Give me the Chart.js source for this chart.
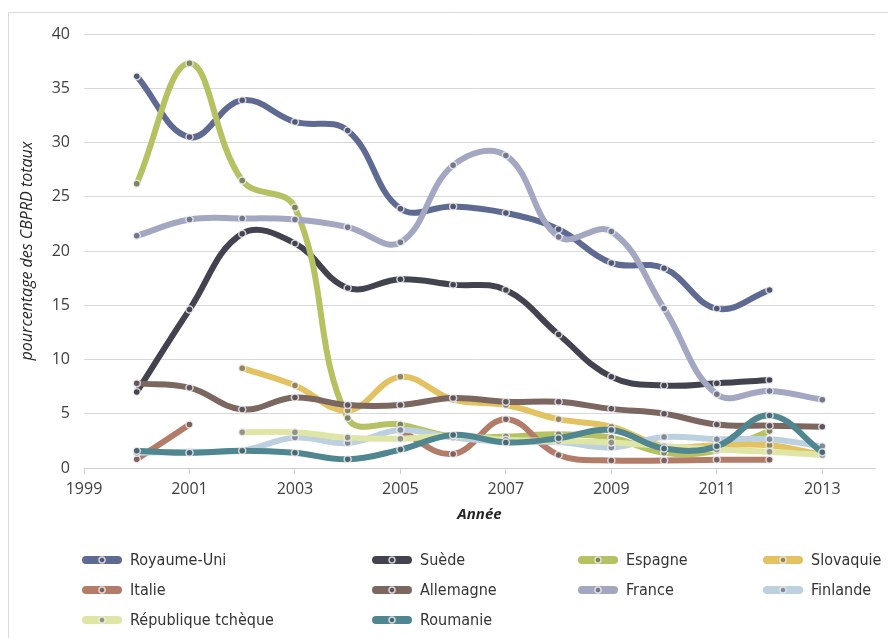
<!DOCTYPE html>
<html lang="fr">
<head>
<meta charset="utf-8">
<title>Part des CBPRD totaux par pays</title>
<script src="https://cdn.jsdelivr.net/npm/chart.js@4"></script>
<style>
  html, body { margin: 0; padding: 0; background: #fff; }
  #wrap { position: relative; width: 888px; height: 638px; }
</style>
</head>
<body>
<div id="wrap"><canvas id="c" width="888" height="638"></canvas></div>
<script>
// Years of observation and axis tick labels
const years = [2000, 2001, 2002, 2003, 2004, 2005, 2006, 2007, 2008, 2009, 2010, 2011, 2012, 2013];
const xTicks = [1999, 2001, 2003, 2005, 2007, 2009, 2011, 2013];
const yTicks = [0, 5, 10, 15, 20, 25, 30, 35, 40];

// Country names (legend order)
const countries = ['Royaume-Uni', 'Suède', 'Espagne', 'Slovaquie', 'Italie',
                   'Allemagne', 'France', 'Finlande', 'République tchèque', 'Roumanie'];

// Share of total CBPRD (%) per year, null = no data
const royaumeUni = [36.1, 30.5, 33.9, 31.9, 31.1, 23.9, 24.1, 23.5, 22.0, 18.9, 18.4, 14.7, 16.4, null];
const suede      = [7.0, 14.6, 21.6, 20.7, 16.6, 17.4, 16.9, 16.4, 12.3, 8.4, 7.6, 7.8, 8.1, null];
const espagne    = [26.2, 37.3, 26.5, 24.0, 4.6, 4.0, 2.9, 2.9, 3.1, 2.8, 1.4, 1.6, 3.4, null];
const slovaquie  = [null, null, 9.2, 7.6, 5.3, 8.4, 6.3, 5.8, 4.5, 3.8, 2.0, 2.1, 2.1, 1.2];
const italie     = [0.8, 4.0, null, null, null, 3.4, 1.3, 4.5, 1.2, 0.7, 0.7, 0.75, 0.75, null];
const allemagne  = [7.8, 7.4, 5.4, 6.5, 5.8, 5.8, 6.45, 6.1, 6.1, 5.45, 5.0, 4.0, 3.9, 3.8];
const france     = [21.4, 22.9, 23.0, 22.9, 22.2, 20.8, 27.9, 28.8, 21.3, 21.8, 14.7, 6.8, 7.1, 6.3];
const finlande   = [1.4, 1.5, 1.6, 2.8, 2.3, 3.5, 2.8, 2.4, 2.4, 1.9, 2.85, 2.65, 2.65, 2.0];
const tcheque    = [null, null, 3.3, 3.3, 2.8, 2.7, 3.0, 2.6, 2.5, 2.35, 2.0, 1.7, 1.5, 1.2];
const roumanie   = [1.6, 1.4, 1.6, 1.4, 0.8, 1.7, 3.05, 2.35, 2.75, 3.5, 1.8, 2.0, 4.85, 1.45];

const seriesValues = [royaumeUni, suede, espagne, slovaquie, italie,
                      allemagne, france, finlande, tcheque, roumanie];

const lineColors = ['#5f6a93', '#43434f', '#b6c162', '#e3c262', '#b27c68',
                    '#7b6660', '#a3a7c1', '#bdd0df', '#dfe5a4', '#4f8690'];

const MARK_FILL = 'rgba(70,70,82,0.5)';
const MARK_RING = 'rgba(240,240,246,0.8)';

const datasets = countries.map((name, i) => ({
  label: name,
  data: years.map((yr, k) => ({ x: yr, y: seriesValues[i][k] })),
  borderColor: lineColors[i],
  backgroundColor: lineColors[i],
  borderWidth: 6,
  borderCapStyle: 'round',
  borderJoinStyle: 'round',
  tension: 0.4,
  spanGaps: false,
  fill: false,
  pointRadius: 3.5,
  pointHoverRadius: 3.5,
  pointBackgroundColor: MARK_FILL,
  pointBorderColor: MARK_RING,
  pointBorderWidth: 1.5,
  order: countries.length - 1 - i   // later series are drawn on top
}));

// Light frame around the figure
const framePlugin = {
  id: 'frame',
  beforeDraw(chart) {
    const ctx = chart.ctx;
    ctx.save();
    ctx.fillStyle = '#ffffff';
    ctx.fillRect(0, 0, chart.width, chart.height);
    ctx.strokeStyle = '#dadada';
    ctx.lineWidth = 1;
    ctx.beginPath();
    ctx.moveTo(8.5, chart.height);
    ctx.lineTo(8.5, 12.5);
    ctx.lineTo(chart.width, 12.5);
    ctx.stroke();
    ctx.restore();
  }
};

// Four-column legend below the axis title
const gridLegend = {
  id: 'gridLegend',
  afterDraw(chart) {
    const ctx = chart.ctx;
    const colX = [82, 372, 578, 763];
    const rowY = 560, rowGap = 30;
    ctx.save();
    chart.data.datasets.forEach((ds, i) => {
      const x0 = colX[i % 4];
      const y = rowY + Math.floor(i / 4) * rowGap;
      ctx.strokeStyle = ds.borderColor;
      ctx.lineWidth = 8;
      ctx.lineCap = 'round';
      ctx.beginPath();
      ctx.moveTo(x0 + 4, y);
      ctx.lineTo(x0 + 36, y);
      ctx.stroke();
      ctx.beginPath();
      ctx.arc(x0 + 20, y, 3, 0, Math.PI * 2);
      ctx.fillStyle = MARK_FILL;
      ctx.fill();
      ctx.lineWidth = 1.5;
      ctx.strokeStyle = MARK_RING;
      ctx.stroke();
      ctx.fillStyle = '#333333';
      ctx.font = '16px "DejaVu Sans Condensed", "DejaVu Sans"';
      ctx.textAlign = 'left';
      ctx.textBaseline = 'middle';
      ctx.fillText(ds.label, x0 + 48, y + 1);
    });
    ctx.restore();
  }
};

new Chart(document.getElementById('c'), {
  type: 'line',
  data: { datasets },
  plugins: [framePlugin, gridLegend],
  options: {
    responsive: false,
    animation: false,
    devicePixelRatio: 1,
    layout: { padding: { left: 14, right: 13, top: 34, bottom: 110 } },
    plugins: {
      legend: { display: false },
      tooltip: { enabled: false }
    },
    scales: {
      x: {
        type: 'linear',
        min: 1999,
        max: 2014,
        afterBuildTicks: s => { s.ticks = xTicks.map(v => ({ value: v })); },
        afterFit: s => { s.height = 60; },
        ticks: {
          padding: 6,
          color: '#404040',
          font: { family: '"Open Sans"', size: 16 },
          callback: v => String(v),
          maxRotation: 0,
          autoSkip: false
        },
        grid: { drawOnChartArea: false, drawTicks: true, tickLength: 6, color: '#cfcfcf' },
        border: { display: true, color: '#cfcfcf' },
        title: {
          display: true,
          text: 'Année',
          color: '#262626',
          font: { family: '"Open Sans"', size: 15, weight: 'bold', style: 'italic' },
          padding: { top: 4, bottom: 4 }
        }
      },
      y: {
        min: 0,
        max: 40,
        afterBuildTicks: s => { s.ticks = yTicks.map(v => ({ value: v })); },
        afterFit: s => { s.width = 70; },
        ticks: {
          padding: 14,
          color: '#404040',
          font: { family: '"Open Sans"', size: 16 }
        },
        grid: { drawTicks: false, color: '#d9d9d9', lineWidth: 1 },
        border: { display: false },
        title: {
          display: true,
          text: 'pourcentage des CBPRD totaux',
          color: '#262626',
          font: { family: '"Open Sans"', size: 16, style: 'italic' },
          padding: { top: 4, bottom: 4 }
        }
      }
    }
  }
});
</script>
</body>
</html>
